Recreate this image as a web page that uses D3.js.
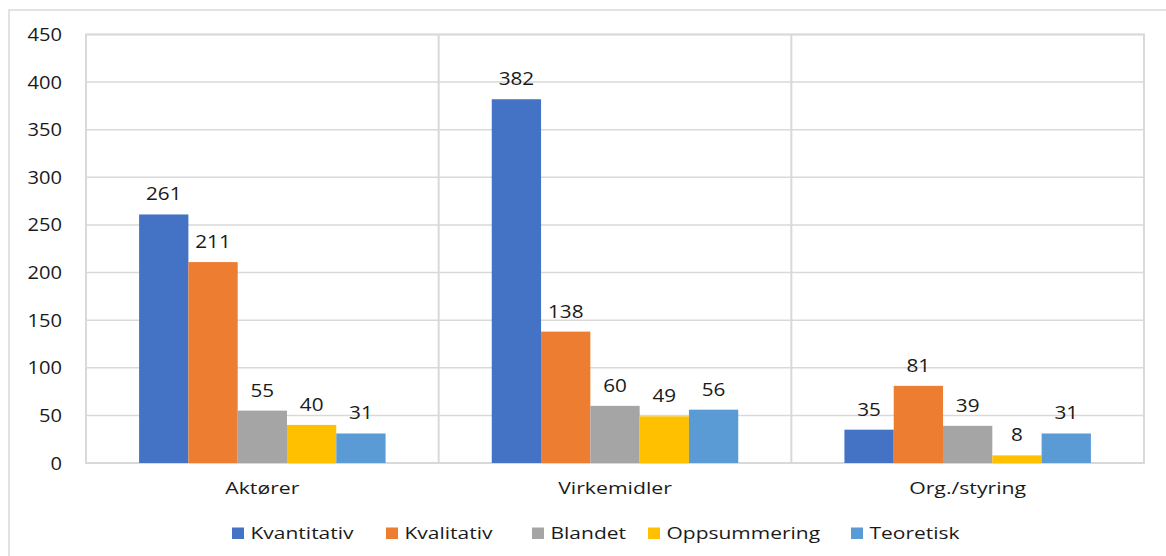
<!DOCTYPE html>
<html><head><meta charset="utf-8">
<script src="https://cdn.jsdelivr.net/npm/d3@7"></script>
<style>body{margin:0;background:#fff;}svg{display:block;}text{font-family:"Open Sans",sans-serif;fill:#1a1a1a;}</style>
</head><body><svg id="c" width="1166" height="556"></svg>
<script>
const categories = ["Aktører", "Virkemidler", "Org./styring"];
const seriesNames = ["Kvantitativ", "Kvalitativ", "Blandet", "Oppsummering", "Teoretisk"];
const kvantitativ = [261, 382, 35];
const kvalitativ = [211, 138, 81];
const blandet = [55, 60, 39];
const oppsummering = [40, 49, 8];
const teoretisk = [31, 56, 31];
const yTicks = [0, 50, 100, 150, 200, 250, 300, 350, 400, 450];
const colors = ["#4472C4", "#ED7D31", "#A5A5A5", "#FFC000", "#5B9BD5"];
const seriesValues = [kvantitativ, kvalitativ, blandet, oppsummering, teoretisk];

const svg = d3.select("#c");
const L = 86, R = 1144, T = 34.5, B = 463;
// outer frame
svg.append("rect").attr("x", 9).attr("y", 10).attr("width", 1170).attr("height", 560)
  .attr("fill", "none").attr("stroke", "#d9d9d9").attr("stroke-width", 1.5);

const y = d3.scaleLinear().domain([0, 450]).range([B, T]);
const x0 = d3.scaleBand().domain(categories).range([L, R]).padding(0);
const x1 = d3.scaleBand().domain(seriesNames).range([0, x0.bandwidth()]).paddingInner(0).paddingOuter(1.077);

// gridlines
svg.append("g").selectAll("line").data(yTicks).join("line")
  .attr("x1", L).attr("x2", R).attr("y1", d => y(d)).attr("y2", d => y(d))
  .attr("stroke", "#d9d9d9").attr("stroke-width", 1.5);
// category separators
svg.append("g").selectAll("line").data(categories.slice(1)).join("line")
  .attr("x1", d => x0(d)).attr("x2", d => x0(d)).attr("y1", T).attr("y2", B)
  .attr("stroke", "#d9d9d9").attr("stroke-width", 2);
// plot border
svg.append("rect").attr("x", L).attr("y", T).attr("width", R - L).attr("height", B - T)
  .attr("fill", "none").attr("stroke", "#d9d9d9").attr("stroke-width", 2);

// bars
const data = [];
categories.forEach((c, ci) => seriesNames.forEach((s, si) => data.push({c, s, si, v: seriesValues[si][ci]})));
svg.append("g").selectAll("rect").data(data).join("rect")
  .attr("x", d => x0(d.c) + x1(d.s)).attr("width", x1.bandwidth())
  .attr("y", d => y(d.v)).attr("height", d => y(0) - y(d.v))
  .attr("fill", d => colors[d.si]);
svg.append("g").selectAll("text").data(data).join("text")
  .attr("transform", d => `translate(${x0(d.c) + x1(d.s) + x1.bandwidth() / 2},${y(d.v) - 14}) scale(1.12,1)`)
  .attr("text-anchor", "middle")
  .style("font-size", "18.5px").text(d => d.v);

// y axis labels
svg.append("g").selectAll("text").data(yTicks).join("text")
  .attr("transform", d => `translate(62,${y(d) + 6.5}) scale(1.15,1)`)
  .attr("text-anchor", "end")
  .style("font-size", "17.5px").text(d => d);
// category labels
svg.append("g").selectAll("text").data(categories).join("text")
  .attr("transform", d => `translate(${x0(d) + x0.bandwidth() / 2},494.3) scale(1.28,1)`)
  .attr("text-anchor", "middle")
  .style("font-size", "16.6px").text(d => d);

// legend
const legendX = [232, 386, 532, 648, 851];
const lg = svg.append("g").selectAll("g").data(seriesNames).join("g")
  .attr("transform", (d, i) => `translate(${legendX[i]},0)`);
lg.append("rect").attr("x", 0).attr("y", 527.5).attr("width", 12).attr("height", 11.5).attr("fill", (d, i) => colors[i]);
lg.append("text").attr("transform", "translate(18.5,539) scale(1.28,1)").style("font-size", "16.4px").text(d => d);
</script></body></html>
